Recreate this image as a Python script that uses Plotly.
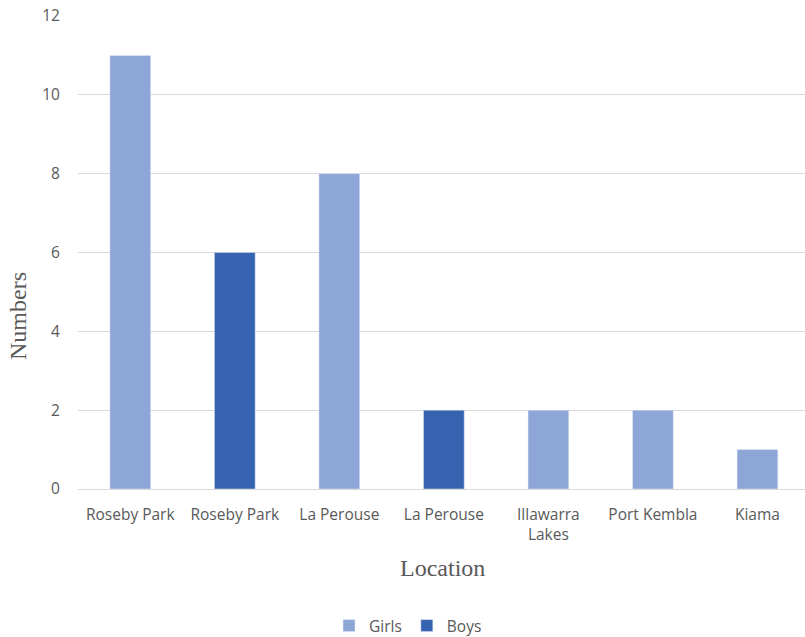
import plotly.graph_objects as go

categories = ["Roseby Park", "Roseby Park", "La Perouse", "La Perouse",
              "Illawarra<br>Lakes", "Port Kembla", "Kiama"]
girls = [11, None, 8, None, 2, 2, 1]
boys = [None, 6, None, 2, None, None, None]
y_ticks = [0, 2, 4, 6, 8, 10, 12]

x_pos = list(range(len(categories)))

W, H = 805, 637
L, R, T, B = 78, 0, 16, 148
pw, ph = W - L - R, H - T - B

fig = go.Figure()
fig.add_trace(go.Bar(x=x_pos, y=girls, name="Girls", marker_color="#8EA5D8",
                     width=0.39))
fig.add_trace(go.Bar(x=x_pos, y=boys, name="Boys", marker_color="#3563B0",
                     width=0.39))

tick_font = dict(family="Open Sans, Noto Sans, sans-serif", size=15.5, color="#595959")
title_font = dict(family="Liberation Serif, serif", size=24, color="#595959")

fig.update_layout(
    width=W, height=H,
    margin=dict(l=L, r=R, t=T, b=B, autoexpand=False),
    plot_bgcolor="white", paper_bgcolor="white",
    barmode="overlay",
    showlegend=True,
    legend=dict(orientation="h", x=(408 - L) / pw, xanchor="center",
                yref="container", y=1 - 626 / H, yanchor="middle",
                font=tick_font, itemwidth=30, traceorder="normal"),
    xaxis=dict(range=[-0.5, 6.455], tickvals=x_pos, ticktext=categories,
               tickfont=tick_font, showgrid=False, zeroline=False,
               showline=True, linecolor="#d9d9d9", linewidth=1,
               ticks="outside", ticklen=11, tickcolor="white", automargin=False),
    yaxis=dict(range=[0, 12], tickvals=y_ticks, tickfont=tick_font,
               showgrid=True, gridcolor="#d9d9d9", gridwidth=1, zeroline=False,
               ticks="outside", ticklen=14, tickcolor="white", automargin=False),
    annotations=[
        dict(text="Numbers", xref="paper", yref="paper",
             x=(18 - L) / pw, y=(H - B - 316) / ph,
             xanchor="center", yanchor="middle",
             showarrow=False, textangle=-90, font=title_font),
        dict(text="Location", xref="paper", yref="paper",
             x=(442 - L) / pw, y=(H - B - 568) / ph,
             xanchor="center", yanchor="middle",
             showarrow=False, font=title_font),
    ],
)

fig.write_html("out.html")
